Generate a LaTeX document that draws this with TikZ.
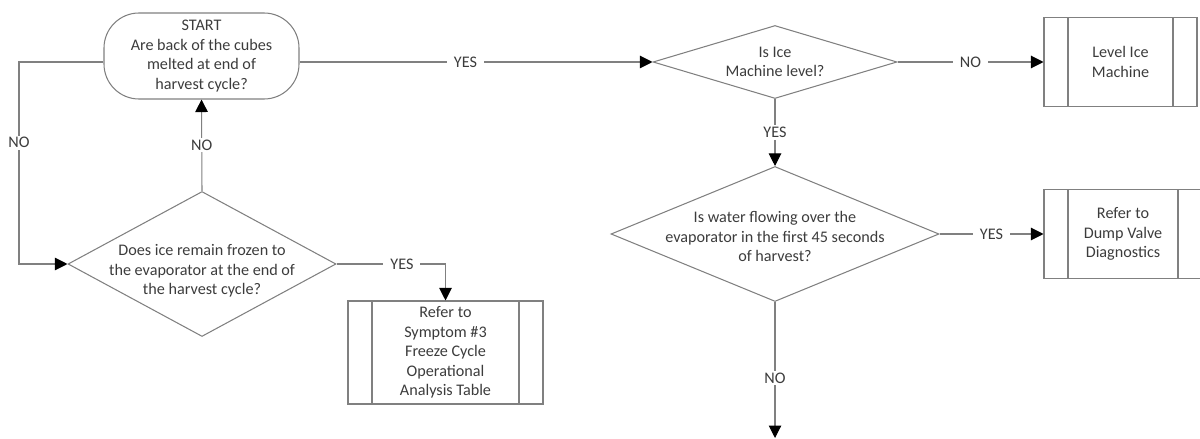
\documentclass[tikz,border=0pt]{standalone}
\usepackage{fontspec}
\setmainfont{Carlito}
\usepackage{tikz}
\usetikzlibrary{shapes.geometric,arrows.meta}
\definecolor{linegray}{RGB}{128,128,128}
\definecolor{txtgray}{RGB}{60,60,60}

\begin{document}
\begin{tikzpicture}[scale=1,
  every node/.style={font=\fontsize{9.2}{11.1}\selectfont, text=txtgray},
  line/.style={draw=linegray, line width=0.6pt},
  arr/.style={line, -{Triangle[length=0.25cm,width=0.25cm,color=black]}},
  term/.style={line, rounded corners=0.7cm, minimum width=3.9cm, minimum height=1.72cm, inner sep=0pt, align=center},
  decision/.style={line, diamond, inner sep=0pt},
  qtext/.style={align=center, inner sep=0pt},
  proc/.style={line, minimum height=1.78cm, inner sep=0pt, align=center,
    path picture={
      \draw[linegray, line width=0.6pt] ([xshift=0.48cm]path picture bounding box.north west) -- ([xshift=0.48cm]path picture bounding box.south west);
      \draw[linegray, line width=0.6pt] ([xshift=-0.48cm]path picture bounding box.north east) -- ([xshift=-0.48cm]path picture bounding box.south east);}},
  lbl/.style={fill=white, inner xsep=4pt, inner ysep=1pt}]
\useasboundingbox (0,0) rectangle (24,-8.78);

\node (start) at (4.03,-1.12) [term] {START\\Are back of the cubes\\melted at end of\\harvest cycle?};
\node (q1) at (15.5,-1.24) [decision, minimum width=4.88cm, minimum height=1.46cm] {};
\node (q1txt) at (q1) [qtext] {Is Ice\\Machine level?};
\node (level) at (22.41,-1.24) [proc, minimum width=3.06cm] {Level Ice\\Machine};
\node (q3) at (15.5,-4.68) [decision, minimum width=6.56cm, minimum height=2.7cm] {};
\node (q3txt) at (q3) [qtext, yshift=-0.05cm] {Is water flowing over the\\evaporator in the first 45 seconds\\of harvest?};
\node (dump) at (22.46,-4.68) [proc, minimum width=3.16cm] {Refer to\\Dump Valve\\Diagnostics};
\node (q2) at (4.04,-5.28) [decision, minimum width=5.36cm, minimum height=2.9cm] {};
\node (q2txt) at (q2) [qtext, yshift=-0.14cm] {Does ice remain frozen to\\the evaporator at the end of\\the harvest cycle?};
\node (sym3) at (8.91,-7.05) [proc, minimum width=3.9cm, minimum height=2.06cm] {Refer to\\Symptom \#3\\Freeze Cycle\\Operational\\Analysis Table};
\coordinate (loop) at (0.38,-5.28);
\coordinate (down) at (15.5,-8.76);

\draw[arr] (q1.west -| start.east) -- node[lbl, pos=0.47] {YES} (q1.west);
\draw[arr] (q1.east) -- node[lbl] {NO} (level.west);
\draw[arr] (q1.south) -- node[lbl] {YES} (q3.north);
\draw[arr] (q3.east) -- node[lbl] {YES} (dump.west);
\draw[arr] (q3.south) -- node[lbl, pos=0.56] {NO} (down);
\draw[arr] (q2.north) -- node[lbl] {NO} (start.south);
\draw[arr] (q1.west -| start.west) -| node[lbl, pos=0.7] {NO} (loop) -- (q2.west);
\draw[arr] (q2.east) -| node[lbl, pos=0.3] {YES} (sym3.north);
\end{tikzpicture}
\end{document}
